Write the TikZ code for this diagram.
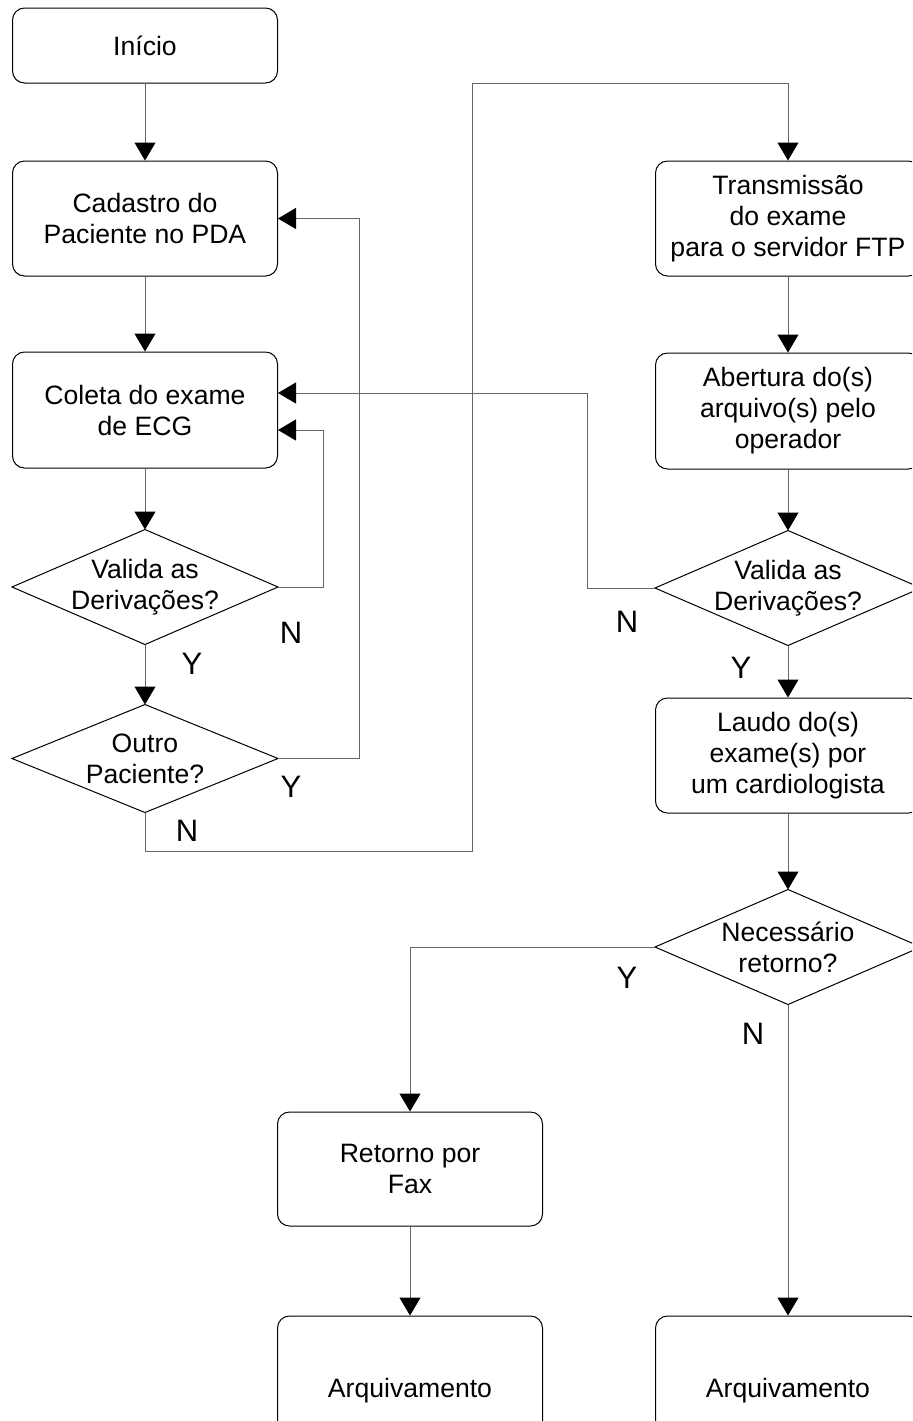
\documentclass[tikz,border=0pt]{standalone}
\usepackage{fontspec}
\setmainfont{Liberation Sans}
\usetikzlibrary{positioning}
\usetikzlibrary{arrows.meta}

\begin{document}
\begin{tikzpicture}[->,>={Triangle[length=9pt,width=10.5pt,color=black]},auto,node distance=37.5pt,
                line width=0.5pt,font=\fontsize{13.3pt}{15.5pt}\selectfont,
                process/.style={rectangle,rounded corners=6pt,draw=black,minimum width=132.5pt,
                  minimum height=57.5pt,align=center,inner sep=2pt},
                decision/.style={rectangle,minimum width=132.5pt,minimum height=57pt,align=center,inner sep=0pt,
                  append after command={\pgfextra{\draw[-,black] (\tikzlastnode.north) -- (\tikzlastnode.east)
                    -- (\tikzlastnode.south) -- (\tikzlastnode.west) -- cycle;}}},
                answer/.style={font=\fontsize{15.5pt}{17pt}\selectfont,inner sep=0pt},
                link/.style={draw=black!60}]

  \useasboundingbox (0,0) rectangle (456pt,-710.5pt);
  \clip (0,0) rectangle (456pt,-710.5pt);

  \node[process,minimum height=37.5pt] (inicio) at (72.5pt,-22.75pt) {Início};
  \node[process] (cadastro) [below=38.5pt of inicio] {Cadastro do\\Paciente no PDA};
  \node[process,minimum height=58pt] (coleta) [below=of cadastro] {Coleta do exame\\de ECG};
  \node[decision] (valida1) [below=30.5pt of coleta] {Valida as\\Derivações?};
  \node[decision,minimum height=53.5pt] (outro) [below=30pt of valida1] {Outro\\Paciente?};

  \node[process] (transm) [right=188.5pt of cadastro] {Transmissão\\do exame\\para o servidor FTP};
  \node[process,minimum height=58pt] (abertura) [below=38pt of transm] {Abertura do(s)\\arquivo(s) pelo\\operador};
  \node[decision] (valida2) [below=30.5pt of abertura] {Valida as\\Derivações?};
  \node[process] (laudo) [below=26pt of valida2] {Laudo do(s)\\exame(s) por\\um cardiologista};
  \node[decision] (necessario) [below=38pt of laudo] {Necessário\\retorno?};

  \node[process,minimum height=57pt] (retorno) [below=53.5pt of necessario,xshift=-189pt] {Retorno por\\Fax};
  \node[process,minimum height=75pt] (arquivo1) [below=44.5pt of retorno] {Arquivamento};
  \node[process,minimum height=75pt] (arquivo2) at (necessario |- arquivo1) {Arquivamento};

  \path[link]
    (inicio) edge (cadastro)
    (cadastro) edge (coleta)
    (coleta) edge (valida1)
    (valida1) edge (outro)
    (transm) edge (abertura)
    (abertura) edge (valida2)
    (valida2) edge (laudo)
    (laudo) edge (necessario)
    (retorno) edge (arquivo1)
    (necessario) edge (arquivo2);

  \draw[link] (valida1.east) -- ++(22.5pt,0) |- ([yshift=-10pt]coleta.east);
  \draw[link] (outro.east) -- ++(40.5pt,0) |- (cadastro.east);
  \draw[link] (outro.south) -- ++(0,-19.5pt) -- ++(163.5pt,0) |- ([yshift=38.5pt]transm.north) -- (transm.north);
  \draw[link] (valida2.west) -- ++(-34pt,0) |- ([yshift=8.5pt]coleta.east);
  \draw[link] (necessario.west) -| (retorno.north);

  \node[answer] (valida1no) at ([shift={(6.5pt,-23pt)}]valida1.east) {N};
  \node[answer] (valida1yes) at ([shift={(23.5pt,-9.5pt)}]valida1.south) {Y};
  \node[answer] (outroyes) at ([shift={(6.5pt,-14pt)}]outro.east) {Y};
  \node[answer] (outrono) at ([shift={(21pt,-9pt)}]outro.south) {N};
  \node[answer] (valida2no) at ([shift={(-14pt,-17pt)}]valida2.west) {N};
  \node[answer] (valida2yes) at ([shift={(-23.5pt,-11pt)}]valida2.south) {Y};
  \node[answer] (necessarioyes) at ([shift={(-14pt,-15.5pt)}]necessario.west) {Y};
  \node[answer] (necessariono) at ([shift={(-17.5pt,-14.5pt)}]necessario.south) {N};

\end{tikzpicture}
\end{document}
